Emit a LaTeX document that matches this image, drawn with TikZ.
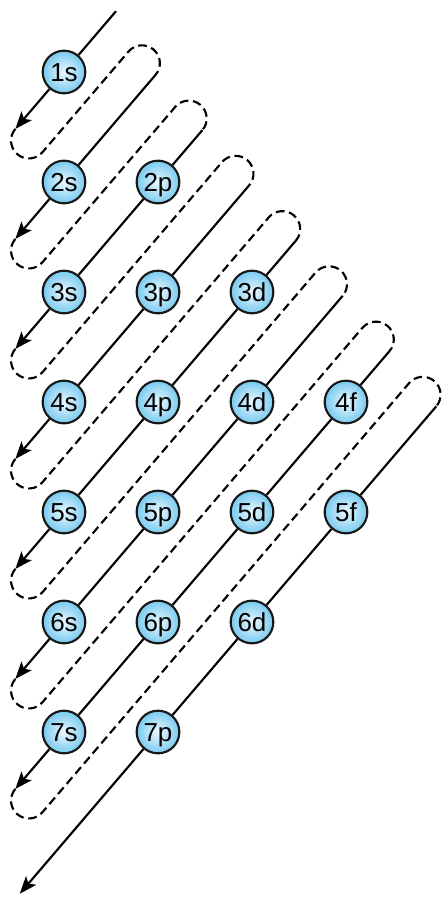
\documentclass[tikz,border=0pt]{standalone}
\usepackage{fontspec}
\setmainfont{Liberation Sans}
\usetikzlibrary{arrows.meta,calc}

\definecolor{orbitEdge}{RGB}{120,202,240}
\definecolor{orbitCore}{RGB}{236,248,254}

\tikzset{every picture/.style={line width=0.75pt}}
\tikzset{
	orbital/.style={circle, draw=black!90, line width=1.6pt, minimum size=32pt, inner sep=0pt,
		inner color=orbitCore, outer color=orbitEdge,
		font=\fontsize{19.5}{20}\selectfont, text height=14pt, text depth=0pt},
	orderline/.style={line width=1.6pt, -{Stealth[length=13pt,width=10pt,inset=3pt]}},
	backloop/.style={line width=1.6pt, dash pattern=on 6.5pt off 3.5pt}}

\begin{document}
\begin{tikzpicture}[x=0.75pt,y=0.75pt,yscale=-1,xscale=1]
	\useasboundingbox (0,0) rectangle (447,900);

	%Orbitals, row by row
	\node [orbital] (o1s) at (64,72) {1s};
	\node [orbital] (o2s) at (64,182) {2s};
	\node [orbital] (o2p) at (158,182) {2p};
	\node [orbital] (o3s) at (64,292) {3s};
	\node [orbital] (o3p) at (158,292) {3p};
	\node [orbital] (o3d) at (252,292) {3d};
	\node [orbital] (o4s) at (64,402) {4s};
	\node [orbital] (o4p) at (158,402) {4p};
	\node [orbital] (o4d) at (252,402) {4d};
	\node [orbital] (o4f) at (346,402) {4f};
	\node [orbital] (o5s) at (64,512) {5s};
	\node [orbital] (o5p) at (158,512) {5p};
	\node [orbital] (o5d) at (252,512) {5d};
	\node [orbital] (o5f) at (346,512) {5f};
	\node [orbital] (o6s) at (64,622) {6s};
	\node [orbital] (o6p) at (158,622) {6p};
	\node [orbital] (o6d) at (252,622) {6d};
	\node [orbital] (o7s) at (64,732) {7s};
	\node [orbital] (o7p) at (158,732) {7p};

	%Top ends of the lines
	\coordinate (t1) at (116.0,11.2);
	\coordinate (t2) at (155.6,74.8);
	\coordinate (t3) at (202.4,130.1);
	\coordinate (t4) at (249.2,185.3);
	\coordinate (t5) at (295.9,240.6);
	\coordinate (t6) at (342.7,295.8);
	\coordinate (t7) at (389.5,351.1);
	\coordinate (t8) at (436.3,406.3);
	%Arrow ends of the lines
	\coordinate (b1) at (15.3,129);
	\coordinate (b2) at (15.3,239);
	\coordinate (b3) at (15.3,349);
	\coordinate (b4) at (15.3,459);
	\coordinate (b5) at (15.3,569);
	\coordinate (b6) at (15.3,679);
	\coordinate (b7) at (15.3,789);
	\coordinate (b8) at (19.8,893.7);

	%Filling order
	\draw [orderline] (t1) -- (o1s) -- (b1);
	\draw [orderline] (t2) -- (o2s) -- (b2);
	\draw [orderline] (t3) -- (o2p) -- (o3s) -- (b3);
	\draw [orderline] (t4) -- (o3p) -- (o4s) -- (b4);
	\draw [orderline] (t5) -- (o3d) -- (o4p) -- (o5s) -- (b5);
	\draw [orderline] (t6) -- (o4d) -- (o5p) -- (o6s) -- (b6);
	\draw [orderline] (t7) -- (o4f) -- (o5d) -- (o6p) -- (o7s) -- (b7);
	\draw [orderline] (t8) -- (o5f) -- (o6d) -- (o7p) -- (b8);

	%Dashed way back up
	\draw [backloop] (b1) arc [start angle=220.51,end angle=40.51,radius=17.87] -- ($(t2)+(220.51:35.74)$) arc [start angle=220.51,end angle=400.51,radius=17.87];
	\draw [backloop] (b2) arc [start angle=220.51,end angle=40.51,radius=17.87] -- ($(t3)+(220.51:35.74)$) arc [start angle=220.51,end angle=400.51,radius=17.87];
	\draw [backloop] (b3) arc [start angle=220.51,end angle=40.51,radius=17.87] -- ($(t4)+(220.51:35.74)$) arc [start angle=220.51,end angle=400.51,radius=17.87];
	\draw [backloop] (b4) arc [start angle=220.51,end angle=40.51,radius=17.87] -- ($(t5)+(220.51:35.74)$) arc [start angle=220.51,end angle=400.51,radius=17.87];
	\draw [backloop] (b5) arc [start angle=220.51,end angle=40.51,radius=17.87] -- ($(t6)+(220.51:35.74)$) arc [start angle=220.51,end angle=400.51,radius=17.87];
	\draw [backloop] (b6) arc [start angle=220.51,end angle=40.51,radius=17.87] -- ($(t7)+(220.51:35.74)$) arc [start angle=220.51,end angle=400.51,radius=17.87];
	\draw [backloop] (b7) arc [start angle=220.51,end angle=40.51,radius=17.87] -- ($(t8)+(220.51:35.74)$) arc [start angle=220.51,end angle=400.51,radius=17.87];

\end{tikzpicture}
\end{document}
